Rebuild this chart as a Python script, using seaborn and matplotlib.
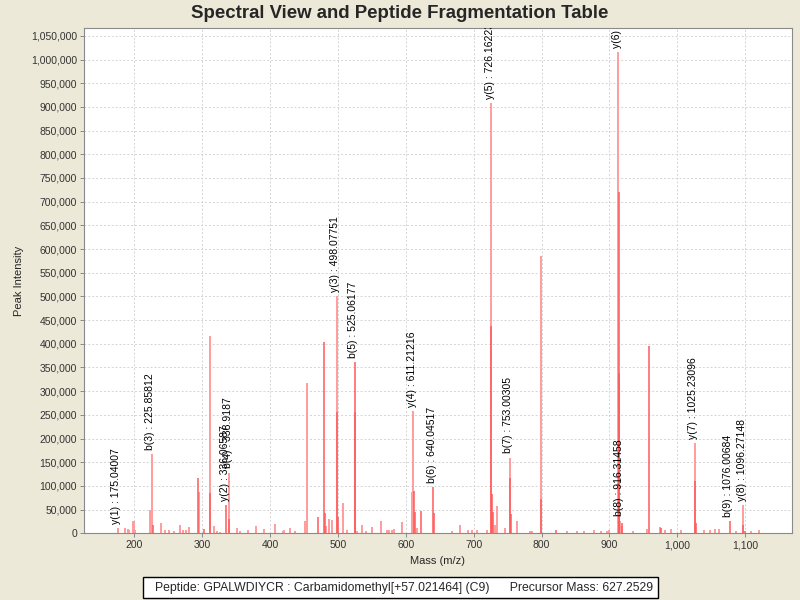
import matplotlib
matplotlib.use("Agg")
import matplotlib.pyplot as plt
from matplotlib.patches import Rectangle
from matplotlib.ticker import FuncFormatter, MultipleLocator
from matplotlib.transforms import offset_copy
import seaborn as sns
import pandas as pd

# light peaks (m/z, intensity)
light_mz = [175.6, 186.3, 190.6, 193, 197.6, 199, 201, 223, 226, 239, 245, 251, 258, 267, 272, 276.7,
            280.6, 295.8, 311.5, 317.8, 322, 326, 339.5, 350.8, 356, 368, 379, 391, 407.7, 419, 421, 429,
            437, 452, 454.8, 483, 487.6, 491, 498, 499, 508, 513, 528, 535, 542, 550.6, 564, 572, 576,
            580, 583, 593.8, 608.5, 611.2, 617, 668, 679.7, 691, 697, 705, 719, 726.2, 731, 735, 746,
            753.3, 764.6, 783, 786, 799, 838, 852, 863, 877, 888, 896, 900, 913.2, 916.3, 918, 935, 955,
            974, 981.6, 991, 1006, 1025.7, 1039, 1048, 1055, 1061, 1087, 1097, 1109, 1121]
light_int = [11800, 11000, 10000, 6000, 26600, 25000, 8000, 49000, 168000, 21000, 7500, 7000, 5600, 17500,
             8000, 7000, 14000, 88000, 416000, 14700, 4000, 3500, 128000, 11000, 5000, 8000, 15000, 9500,
             19000, 5000, 8000, 11000, 5000, 25000, 318000, 16000, 30000, 28000, 500000, 140000, 64000,
             8000, 4000, 18000, 5600, 12700, 25000, 8000, 7000, 8000, 9000, 24000, 88000, 258000, 11000,
             5000, 18000, 8000, 7000, 6000, 8000, 908000, 18000, 57000, 12000, 160000, 25000, 5000, 5000,
             585000, 4000, 5600, 5000, 6000, 4000, 5000, 7000, 1015000, 27000, 16000, 5600, 9000, 12700,
             8000, 9000, 8000, 190000, 8000, 8000, 9000, 9000, 4000, 59000, 5000, 7000]

# strong peaks
strong_mz = [227, 294.3, 303, 312, 335.8, 340, 471, 480, 480.5, 498.3, 500, 525, 525.5, 612, 613.5, 622,
             640.4, 641, 726.3, 727, 729, 754, 755, 799.4, 822, 913.5, 914, 919, 958.5, 976, 1026.3,
             1027, 1077, 1097.5, 1100]
strong_int = [18000, 116000, 10000, 86000, 59000, 30000, 33800, 404600, 42000, 257000, 35000, 361000,
              255000, 90000, 44000, 48000, 98000, 43000, 437700, 84000, 45000, 116000, 40000, 72000, 8000,
              720000, 339000, 22000, 396000, 12000, 110000, 21000, 25000, 18000, 5000]

ann_labels = ["y(1) : 175.04007", "b(3) : 225.85812", "y(2) : 336.06587", "b(4) : 338.9187",
              "y(3) : 498.07751", "b(5) : 525.06177", "y(4) : 611.21216", "b(6) : 640.04517",
              "y(5) : 726.16223", "b(7) : 753.00305", "y(6) : 913.20148", "b(8) : 916.31458",
              "y(7) : 1025.23096", "b(9) : 1076.00684", "y(8) : 1096.27148"]
ann_mz = [175.6, 226, 335.8, 339.5, 498, 525, 611.2, 640.4, 726.2, 753.3, 913.2, 916.3, 1025.7, 1077, 1097]
ann_int = [11800, 168000, 59000, 128000, 500000, 361000, 258000, 98000, 908000, 160000, 1015000, 27000,
           190000, 25000, 59000]

title = "Spectral View and Peptide Fragmentation Table"
legend_text = "Peptide: GPALWDIYCR : Carbamidomethyl[+57.021464] (C9)      Precursor Mass: 627.2529"

sns.set_theme(style="whitegrid", rc={"grid.color": "#d4d4d4", "grid.linestyle": (0, (2, 2)),
                                     "grid.linewidth": 0.7, "axes.edgecolor": "#8a8a8a"})
plt.rcParams["font.family"] = ["Liberation Sans", "DejaVu Sans"]

df_l = pd.DataFrame({"mz": light_mz, "intensity": light_int})
df_s = pd.DataFrame({"mz": strong_mz, "intensity": strong_int})

fig = plt.figure(figsize=(8, 6), dpi=100, facecolor="#ece9d8")
ax = fig.add_axes([84 / 800, 1 - 533.3 / 600, 708 / 800, 505 / 600])
ax.set_facecolor("white")
ax.vlines(df_l["mz"], 0, df_l["intensity"], color="#ff9c9c", lw=1.4)
ax.vlines(df_s["mz"], 0, df_s["intensity"], color="#ff5a5a", lw=1.1)

# fragment labels, clipped to the plot area like the original
lab_tr = offset_copy(ax.transData, fig=fig, x=-1, y=3, units="points")
for lab, x, y in zip(ann_labels, ann_mz, ann_int):
    ax.text(x, y, lab, transform=lab_tr, rotation=90, ha="center", va="bottom",
            fontsize=7.5, color="black", clip_on=True)

ax.set_xlim(126, 1169)
ax.set_ylim(0, 1066000)
ax.xaxis.set_major_locator(MultipleLocator(100))
ax.yaxis.set_major_locator(MultipleLocator(50000))
fmt = FuncFormatter(lambda v, p: f"{int(round(v)):,}")
ax.xaxis.set_major_formatter(fmt)
ax.yaxis.set_major_formatter(fmt)
ax.tick_params(axis="both", labelsize=7.5, labelcolor="#333333", length=3, width=0.7,
               color="#8a8a8a", direction="out", pad=2, left=True, bottom=True)
for s in ax.spines.values():
    s.set_linewidth(0.8)
ax.grid(True)

fig.text(0.5, 1 - 14 / 600, title, ha="center", va="center", fontsize=13.4, fontweight="bold")
fig.text(438 / 800, 1 - 561 / 600, "Mass (m/z)", ha="center", va="center", fontsize=8)
fig.text(19 / 800, 1 - 281 / 600, "Peak Intensity", ha="center", va="center", fontsize=8, rotation=90)

fig.patches.append(Rectangle((142.7 / 800, 1 - 598.3 / 600), 514.8 / 800, 21.6 / 600,
                             transform=fig.transFigure, fc="white", ec="black", lw=1))
fig.text(404 / 800, 1 - 587.5 / 600, legend_text, ha="center", va="center", fontsize=8.8)

fig.savefig("out.png", dpi=100, facecolor=fig.get_facecolor())
